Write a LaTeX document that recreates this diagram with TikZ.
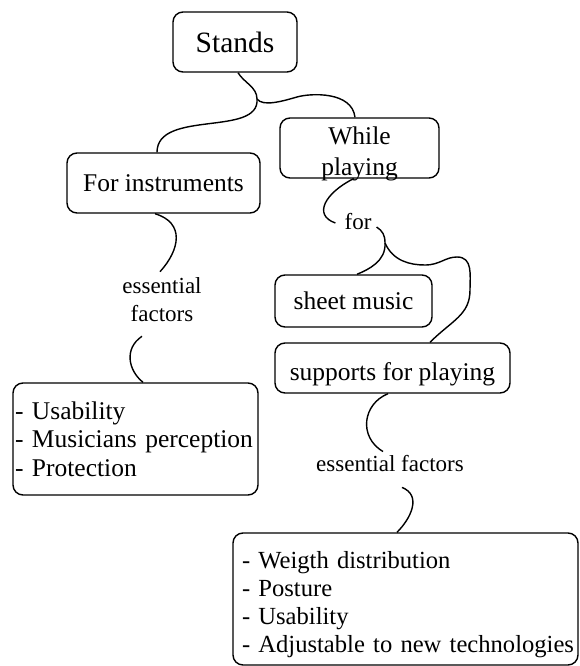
\documentclass[tikz,border=0pt]{standalone}
\usepackage{fontspec}
\setmainfont{Liberation Serif}
\usetikzlibrary{calc}
\begin{document}
\begin{tikzpicture}[x=1pt,y=-1pt,
  box/.style={draw, line width=1.4pt, rounded corners=10pt, inner sep=0pt,
    font=\fontsize{25.5}{28.5}\selectfont},
  tag/.style={inner sep=2pt, font=\fontsize{23}{28}\selectfont, align=center},
  link/.style={line width=1.4pt}]
\useasboundingbox (0,0) rectangle (579,666);

% concept boxes
\node[box, minimum width=159pt, minimum height=60pt, inner xsep=2pt,
      text width=155pt, align=center, text height=26.6pt, text depth=33pt]
      (while) at (359.5,148) {While\\[2.5pt]playing};
\node[box, minimum width=124pt, minimum height=60pt,
      font=\fontsize{29.5}{34}\selectfont] (stands) at (235,42) {Stands};
\node[box, minimum width=193pt, minimum height=60pt] (forinst) at (163.5,183) {For instruments};
\node[box, minimum width=157pt, minimum height=52pt] (sheet) at (353.5,301) {sheet music};
\node[box, minimum width=235pt, minimum height=50pt, text height=29.6pt]
      (supports) at (392.5,368) {supports for playing};
\node[box, minimum width=245pt, minimum height=112pt, inner xsep=2pt,
      text width=241pt, align=left] (listL) at (135.5,439)
      {- Usability\\- Musicians perception\\- Protection};
\node[box, minimum width=345pt, minimum height=132pt, inner xsep=0pt,
      text width=345pt, align=left, font=\fontsize{24.6}{28}\selectfont,
      text height=27.6pt] (listR) at (405.5,599)
      {\leftskip=9pt\relax
       \mbox{- Weigth distribution}\\\mbox{- Posture}\\\mbox{- Usability}\\
       \mbox{- Adjustable to new technologies}\par};

% linking phrases
\node[tag] (for) at (358,222) {for};
\node[tag] (essL) at (162,300) {essential\\factors};
\node[tag] (essR) at (390,464) {essential factors};

% branching points
\coordinate (j1) at (257,99);
\coordinate (j2) at (385,243);

% connectors
\draw[link] ($(stands.south)+(3,0)$) .. controls +(6,10) and +(0,-12) .. (j1);
\draw[link] (j1) .. controls +(3,38) and +(0,-43) .. ($(forinst.north)+(-6.5,0)$);
\draw[link] (j1) .. controls +(6,8) and +(-14,4) .. (297,97)
                 .. controls +(14,-4) and +(-3,-26) .. ($(while.north)+(-4.5,0)$);

\draw[link] ($(while.south)+(-6,0)$) .. controls +(-28,14) and +(-23,-8) .. ($(for.west)+(-7,1)$);
\draw[link] ($(for.east)+(3,5)$) .. controls +(6,4) and +(0,-8) .. (j2);
\draw[link] (j2) .. controls +(1,18) and +(12,-5) .. ($(sheet.north)+(3.5,0)$);
\draw[link] (j2) .. controls +(8,18) and +(-15,0) .. (425,265)
                 .. controls +(15,0) and +(-12,0) .. (457,257)
                 .. controls +(16,0) and +(0,-15) .. (470,290)
                 .. controls +(0,25) and +(22,-22) .. ($(supports.north)+(37.5,0)$);

\draw[link] ($(forinst.south)+(-8.5,0)$) .. controls +(30,9) and +(20,-22) .. ($(essL.north)+(-2,-4)$);
\draw[link] ($(essL.south)+(-20,12)$) .. controls +(-18,12) and +(-15,-12) .. ($(listL.north)+(7.5,0)$);

\draw[link] ($(supports.south)+(-4.5,0)$) .. controls +(-25,10) and +(-25,-15) .. ($(essR.north)+(-7,-2)$);
\draw[link] ($(essR.south)+(12,13)$) .. controls +(20,8) and +(14,-14) .. ($(listR.north)+(-8.5,0)$);
\end{tikzpicture}
\end{document}
